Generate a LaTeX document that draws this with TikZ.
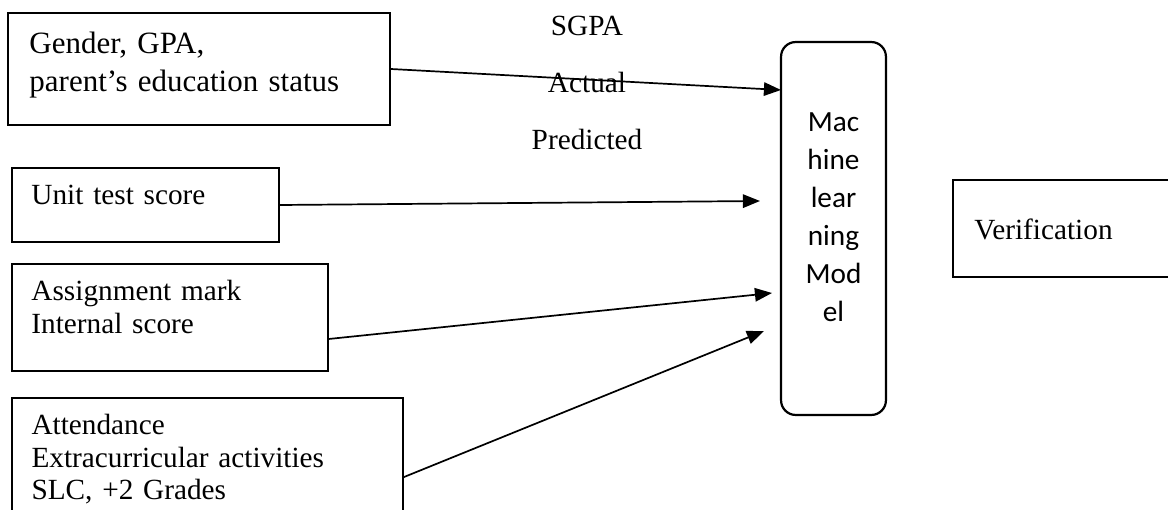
\documentclass[tikz,border=0pt]{standalone}
\usepackage{fontspec}
\setmainfont{Liberation Serif}
\newfontfamily\mlfont{Carlito}
\usepackage{tikz}
\usetikzlibrary{
  arrows.meta,
  positioning,
  calc
}
\tikzset{
  inbox/.style={draw, line width=0.8pt, align=left,
    inner xsep=8pt, text height=8pt,
    font=\fontsize{12pt}{13.3pt}\selectfont},
  mlbox/.style={draw, line width=0.9pt, rounded corners=6pt,
    minimum width=43pt, minimum height=152.9pt, text width=32pt,
    align=center, text height=8pt,
    font=\mlfont\fontsize{12pt}{15.6pt}\selectfont},
  tag/.style={anchor=base, font=\fontsize{12pt}{14pt}\selectfont},
  arr/.style={-{Triangle[length=7pt, width=5.5pt]}, line width=0.7pt},
}

\begin{document}
\begin{tikzpicture}[x=0.41pt, y=-0.41pt]
  \path[use as bounding box, clip] (0,0) rectangle (1168,510);

  % Inputs
  \node[inbox, inner xsep=8.8pt, text width=139pt, minimum height=45.9pt,
        text depth=20.3pt, font=\fontsize{12.7pt}{15.2pt}\selectfont]
    (b1) at (199,69) {Gender, GPA,\\parent’s education status};
  \node[inbox, text width=93.5pt, minimum height=30.3pt, text depth=8pt]
    (b2) at (145.5,205) {Unit test score};
  \node[inbox, text width=113.6pt, minimum height=43.9pt, text depth=21.6pt]
    (b3) at (170,317.5) {Assignment mark\\Internal score};
  \node[inbox, text width=144.3pt, minimum height=58.2pt, text depth=35.9pt]
    (b4) at (207.5,469)
    {Attendance\\Extracurricular activities\\SLC, +2 Grades};

  % Model
  \node[mlbox, text depth=87.4pt] (ml) at (833.5,228.5)
    {Mac\\hine\\lear\\ning\\Mod\\el};

  % Output
  \node[inbox, inner xsep=8.8pt, text width=100.1pt, minimum height=39.8pt,
        text height=9.4pt, text depth=0pt] (ver) at (1096.5,228.5)
    {Verification};

  % SGPA labels
  \node[tag] (sgpa) at (587,36) {SGPA};
  \node[tag] (actual) at (587,93) {Actual};
  \node[tag] (pred) at (587,150) {Predicted};

  % Arrows
  \coordinate (in1) at (781,90);
  \coordinate (in2) at (760,201);
  \coordinate (in3) at (772,293);
  \coordinate (in4) at (764,331);
  \draw[arr] (b1.east) -- (in1);
  \draw[arr] (b2.east) -- (in2);
  \draw[arr] ([yshift=-8.8pt]b3.east) -- (in3);
  \draw[arr] ([yshift=-3.3pt]b4.east) -- (in4);
\end{tikzpicture}
\end{document}
